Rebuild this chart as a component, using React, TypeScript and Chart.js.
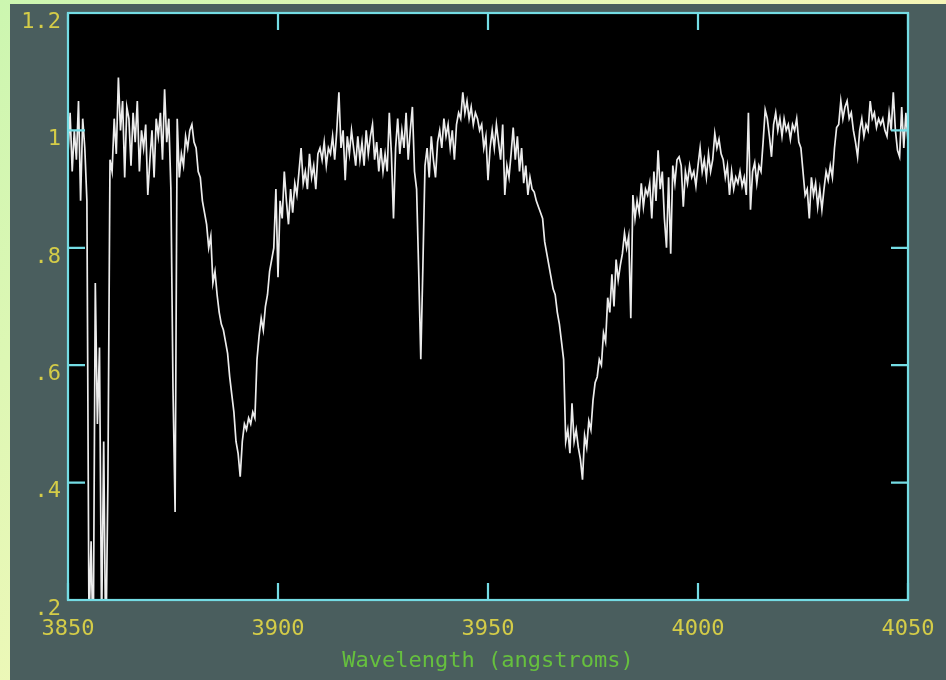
import React, { useEffect, useRef } from "react";
import { Chart, registerables } from "chart.js";

Chart.register(...registerables);

// Spectrum sampling grid (angstroms)
const WAVE_START = 3850;
const WAVE_STEP = 0.5;

// Normalised flux, 0.5 A per sample
const FLUX_3850_3899 = [
  0.96, 1.03, 0.93, 1.0, 0.95, 1.05, 0.88, 1.02, 0.97, 0.88,
  0.15, 0.3, 0.1, 0.74, 0.5, 0.63, 0.15, 0.47, 0.1, 0.4,
  0.95, 0.93, 1.02, 0.96, 1.09, 1.0, 1.05, 0.92, 1.04, 1.02,
  0.94, 1.03, 0.98, 1.05, 0.93, 1.0, 0.97, 1.01, 0.89, 0.95,
  1.0, 0.92, 1.02, 0.99, 1.03, 0.95, 1.07, 0.98, 1.02, 0.9,
  0.56, 0.35, 1.02, 0.92, 0.96, 0.94, 0.99, 0.97, 1.0, 1.01,
  0.98, 0.97, 0.93, 0.92, 0.88, 0.86, 0.84, 0.8, 0.82, 0.74,
  0.76, 0.72, 0.69, 0.67, 0.66, 0.64, 0.62, 0.58, 0.55, 0.52,
  0.47, 0.45, 0.41, 0.47, 0.5, 0.49, 0.51, 0.5, 0.52, 0.51,
  0.61, 0.65, 0.68, 0.66, 0.7, 0.72, 0.76, 0.78, 0.8, 0.9,
];
const FLUX_3900_3949 = [
  0.75, 0.88, 0.85, 0.93, 0.88, 0.84, 0.9, 0.86, 0.91, 0.89,
  0.93, 0.97, 0.91, 0.93, 0.9, 0.96, 0.92, 0.94, 0.9, 0.96,
  0.97, 0.95, 0.98, 0.94, 0.97, 0.96, 0.99, 0.95, 1.0, 1.065,
  0.97, 1.0, 0.915, 0.99, 0.96, 1.0, 0.97, 0.94, 0.99, 0.95,
  0.98, 0.94, 1.0, 0.96, 0.99, 1.01, 0.95, 0.98, 0.93, 0.97,
  0.93, 0.96, 0.93, 1.03, 0.96, 0.85, 0.97, 1.02, 0.96, 1.0,
  0.97, 1.03, 0.95, 1.0, 1.04, 0.93, 0.9, 0.76, 0.61, 0.77,
  0.94, 0.97, 0.92, 0.99, 0.95, 0.92, 0.98, 1.0, 0.97, 1.02,
  0.99, 1.01, 0.97, 1.0, 0.95, 1.01, 1.03, 1.02, 1.065, 1.03,
  1.05, 1.02, 1.04, 1.01, 1.03, 1.02, 1.0, 1.01, 0.97, 0.99,
];
const FLUX_3950_3999 = [
  0.915, 0.97, 1.0, 0.97, 1.01, 0.98, 0.95, 1.01, 0.89, 0.94,
  0.92, 0.96, 1.005, 0.95, 0.99, 0.93, 0.97, 0.91, 0.94, 0.89,
  0.92, 0.9, 0.895, 0.88, 0.87, 0.86, 0.85, 0.81, 0.79, 0.77,
  0.75, 0.73, 0.72, 0.69, 0.67, 0.64, 0.61, 0.47, 0.49, 0.45,
  0.535, 0.47, 0.49, 0.46, 0.44, 0.405, 0.48, 0.46, 0.505, 0.49,
  0.54, 0.57, 0.58, 0.61, 0.6, 0.655, 0.64, 0.715, 0.69, 0.755,
  0.7, 0.78, 0.745, 0.77, 0.79, 0.825, 0.8, 0.82, 0.68, 0.89,
  0.85, 0.88, 0.86, 0.91, 0.87, 0.9, 0.89, 0.91, 0.85, 0.93,
  0.88, 0.966, 0.9, 0.93, 0.85, 0.8, 0.92, 0.79, 0.94, 0.91,
  0.95, 0.955, 0.94, 0.87, 0.93, 0.91, 0.94, 0.92, 0.93, 0.905,
];
const FLUX_4000_4050 = [
  0.94, 0.97, 0.93, 0.95, 0.92, 0.96, 0.93, 0.95, 0.995, 0.97,
  0.985, 0.96, 0.95, 0.92, 0.94, 0.89, 0.93, 0.9, 0.92, 0.91,
  0.93, 0.905, 0.92, 0.89, 1.03, 0.865, 0.93, 0.945, 0.91, 0.94,
  0.93, 0.98, 1.035, 1.02, 0.99, 0.955, 1.01, 1.03, 1.0, 1.02,
  0.99, 1.02, 1.0, 1.01, 0.985, 1.01, 1.0, 1.02, 0.98, 0.97,
  0.93, 0.89, 0.9, 0.85, 0.92, 0.89, 0.91, 0.87, 0.9, 0.865,
  0.9, 0.93, 0.915, 0.94, 0.92, 0.97, 1.005, 1.01, 1.05, 1.02,
  1.04, 1.05, 1.02, 1.03, 1.0, 0.98, 0.955, 1.0, 1.02, 0.99,
  1.01, 1.0, 1.05, 1.02, 1.03, 1.005, 1.02, 1.01, 1.02, 1.0,
  0.99, 1.03, 1.0, 1.065, 1.0, 0.966, 0.955, 1.04, 0.97, 1.03,
  0.98,
];

const X_TICKS = [3850, 3900, 3950, 4000, 4050];
const Y_TICKS = [0.2, 0.4, 0.6, 0.8, 1.0, 1.2];
const Y_LABELS = [".2", ".4", ".6", ".8", "1", "1.2"];
const X_TITLE = "Wavelength (angstroms)";

const FONT = "'DejaVu Sans Mono', 'Liberation Mono', monospace";
const LABEL_COLOR = "#d4cc48";
const TITLE_COLOR = "#66c03e";
const FRAME_COLOR = "#74dce4";

const framePlugin = {
  id: "spectrumFrame",
  beforeDatasetsDraw(chart: any) {
    const { ctx, chartArea: a } = chart;
    ctx.save();
    ctx.fillStyle = "#000000";
    ctx.fillRect(a.left, a.top, a.right - a.left, a.bottom - a.top);
    ctx.restore();
  },
  afterDatasetsDraw(chart: any) {
    const { ctx, chartArea: a, scales } = chart;
    const L = 17;
    ctx.save();
    ctx.strokeStyle = FRAME_COLOR;
    ctx.lineWidth = 2.2;
    ctx.strokeRect(a.left, a.top, a.right - a.left, a.bottom - a.top);
    ctx.beginPath();
    for (const v of X_TICKS) {
      const px = scales.x.getPixelForValue(v);
      ctx.moveTo(px, a.bottom);
      ctx.lineTo(px, a.bottom - L);
      ctx.moveTo(px, a.top);
      ctx.lineTo(px, a.top + L);
    }
    for (const v of Y_TICKS) {
      const py = scales.y.getPixelForValue(v);
      ctx.moveTo(a.left, py);
      ctx.lineTo(a.left + L, py);
      ctx.moveTo(a.right, py);
      ctx.lineTo(a.right - L, py);
    }
    ctx.stroke();
    ctx.restore();
  },
};

export default function App() {
  const canvasRef = useRef<HTMLCanvasElement | null>(null);

  useEffect(() => {
    const flux = [...FLUX_3850_3899, ...FLUX_3900_3949, ...FLUX_3950_3999, ...FLUX_4000_4050];
    const points = flux.map((f, i) => ({ x: WAVE_START + i * WAVE_STEP, y: f }));
    const chart = new Chart(canvasRef.current as HTMLCanvasElement, {
      type: "line",
      data: {
        datasets: [
          {
            data: points,
            borderColor: "#ececec",
            borderWidth: 1.7,
            pointRadius: 0,
            tension: 0,
          },
        ],
      },
      options: {
        animation: false,
        responsive: false,
        devicePixelRatio: 1,
        layout: { padding: { left: 0, top: 13, right: 38, bottom: 0 } },
        plugins: { legend: { display: false }, tooltip: { enabled: false }, title: { display: false } },
        scales: {
          x: {
            type: "linear",
            min: 3850,
            max: 4050,
            grid: { display: false, drawTicks: false },
            border: { display: false },
            afterBuildTicks: (s: any) => {
              s.ticks = X_TICKS.map((v) => ({ value: v }));
            },
            afterFit: (s: any) => {
              s.height = 80;
              s.paddingLeft = 0;
              s.paddingRight = 0;
            },
            ticks: {
              color: LABEL_COLOR,
              font: { family: FONT, size: 22 },
              padding: 16,
              maxRotation: 0,
              autoSkip: false,
              callback: (v: any) => String(v),
            },
            title: {
              display: true,
              text: X_TITLE,
              color: TITLE_COLOR,
              font: { family: FONT, size: 22 },
              padding: { top: 0, bottom: 6 },
            },
          },
          y: {
            type: "linear",
            min: 0.2,
            max: 1.2,
            grid: { display: false, drawTicks: false },
            border: { display: false },
            afterBuildTicks: (s: any) => {
              s.ticks = Y_TICKS.map((v) => ({ value: v }));
            },
            afterFit: (s: any) => {
              s.width = 68;
              s.paddingTop = 0;
              s.paddingBottom = 0;
            },
            ticks: {
              color: LABEL_COLOR,
              font: { family: FONT, size: 22 },
              padding: 7,
              labelOffset: 9,
              autoSkip: false,
              callback: (_v: any, i: number) => Y_LABELS[i],
            },
          },
        },
      },
      plugins: [framePlugin],
    } as any);
    return () => chart.destroy();
  }, []);

  return (
    <div
      style={{
        position: "absolute",
        left: 0,
        top: 0,
        width: 946,
        height: 680,
        overflow: "hidden",
        background: "linear-gradient(135deg, #ccf6b0 0%, #eef8b8 45%, #fff0b4 75%, #ffe2b0 100%)",
      }}
    >
      <div
        style={{
          position: "absolute",
          left: 10,
          top: 4,
          width: 936,
          height: 676,
          background: "#4a5e5e",
        }}
      />
      <canvas
        ref={canvasRef}
        width={946}
        height={680}
        style={{ position: "absolute", left: 0, top: 0, width: 946, height: 680 }}
      />
    </div>
  );
}
